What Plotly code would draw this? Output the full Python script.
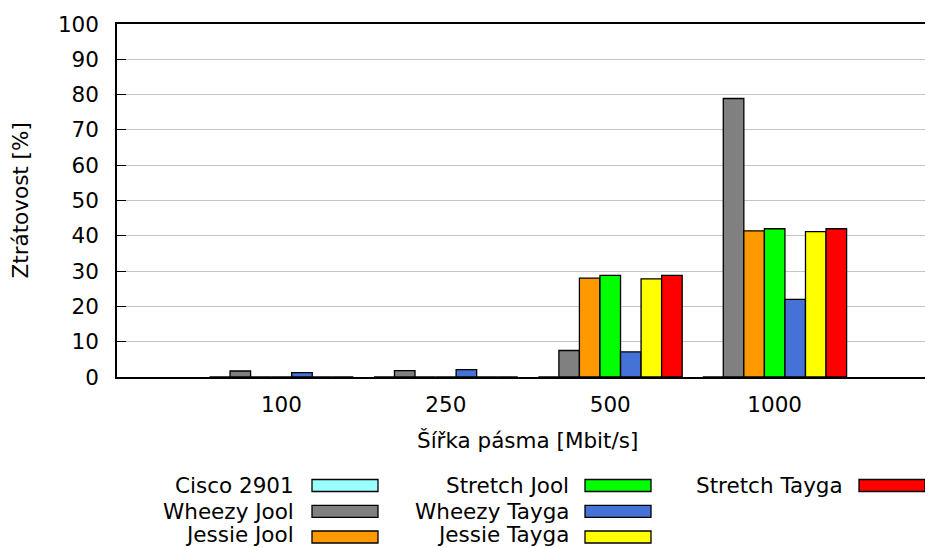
import plotly.graph_objects as go

# ---- data ----
categories = ["100", "250", "500", "1000"]
series_names = ["Cisco 2901", "Wheezy Jool", "Jessie Jool", "Stretch Jool",
                "Wheezy Tayga", "Jessie Tayga", "Stretch Tayga"]
cisco_2901 = [0, 0, 0, 0]
wheezy_jool = [1.7, 1.8, 7.5, 78.9]
jessie_jool = [0, 0, 28.0, 41.4]
stretch_jool = [0, 0, 28.8, 42.0]
wheezy_tayga = [1.25, 2.1, 7.1, 22.0]
jessie_tayga = [0, 0, 27.8, 41.2]
stretch_tayga = [0, 0, 28.8, 42.0]
series_values = [cisco_2901, wheezy_jool, jessie_jool, stretch_jool,
                 wheezy_tayga, jessie_tayga, stretch_tayga]
colors = ["#99FFFF", "#808080", "#FF9900", "#00FF00",
          "#4472D6", "#FFFF00", "#FF0000"]
y_ticks = [0, 10, 20, 30, 40, 50, 60, 70, 80, 90, 100]

FONT = "DejaVu Sans"
FS = 21.5
OFF = 8  # page body margin
W, H = 933 - OFF, 548 - OFF
# plot area in screen px
L, T, B, R = 117, 24, 377, 933

fig = go.Figure()
xpos = list(range(len(categories)))
for name, vals, col in zip(series_names, series_values, colors):
    fig.add_trace(go.Bar(x=xpos, y=vals, name=name,
                         marker=dict(color=col, line=dict(color="black", width=1.3)),
                         showlegend=False))

def px_x(p):
    return (p - L) / (R - L)

def px_y(p):
    return (B - p) / (B - T)

shapes = []
annotations = []
col_box_x0 = [312, 585, 859]
col_text_right = [296, 571, 845]
row_centers = [485.5, 511.3, 537]
for i, (name, col) in enumerate(zip(series_names, colors)):
    c, r = divmod(i, 3)
    cy = row_centers[r]
    x0 = col_box_x0[c]
    shapes.append(dict(type="rect", xref="paper", yref="paper",
                       x0=px_x(x0), x1=px_x(x0 + 66),
                       y0=px_y(cy + 6), y1=px_y(cy - 6),
                       fillcolor=col, line=dict(color="black", width=1.3)))
    ty = min(cy, 534.5)
    annotations.append(dict(text=name, xref="paper", yref="paper",
                            x=px_x(col_text_right[c]), y=px_y(ty),
                            xanchor="right", yanchor="middle", showarrow=False,
                            font=dict(family=FONT, size=FS, color="black")))

# axis titles
annotations.append(dict(text="Ztrátovost [%]", xref="paper", yref="paper",
                        x=px_x(20), y=px_y(200.5), textangle=-90,
                        xanchor="center", yanchor="middle", showarrow=False,
                        font=dict(family=FONT, size=FS, color="black")))
annotations.append(dict(text="Šířka pásma [Mbit/s]", xref="paper", yref="paper",
                        x=px_x(527), y=px_y(440),
                        xanchor="center", yanchor="middle", showarrow=False,
                        font=dict(family=FONT, size=FS, color="black")))

fig.update_layout(
    width=W, height=H,
    margin=dict(l=L - OFF, r=(933 - OFF) - (R - OFF), t=T - OFF, b=H - (B - OFF), pad=0),
    paper_bgcolor="white", plot_bgcolor="white",
    barmode="group", bargap=0.125, bargroupgap=0,
    font=dict(family=FONT, size=FS, color="black"),
    shapes=shapes, annotations=annotations,
    xaxis=dict(range=[-1, 3.963], tickmode="array", tickvals=xpos, ticktext=categories,
               showline=True, linecolor="black", linewidth=1.5, mirror=True,
               ticks="", showgrid=False, zeroline=False, ticklabelstandoff=7),
    yaxis=dict(range=[0, 100], tickmode="array", tickvals=y_ticks,
               showline=True, linecolor="black", linewidth=1.5,
               ticks="inside", ticklen=9, tickcolor="black", tickwidth=1.3,
               showgrid=True, gridcolor="#c4c4c4", gridwidth=1.3, zeroline=False,
               ticklabelstandoff=12),
)

fig.write_html("out.html")
